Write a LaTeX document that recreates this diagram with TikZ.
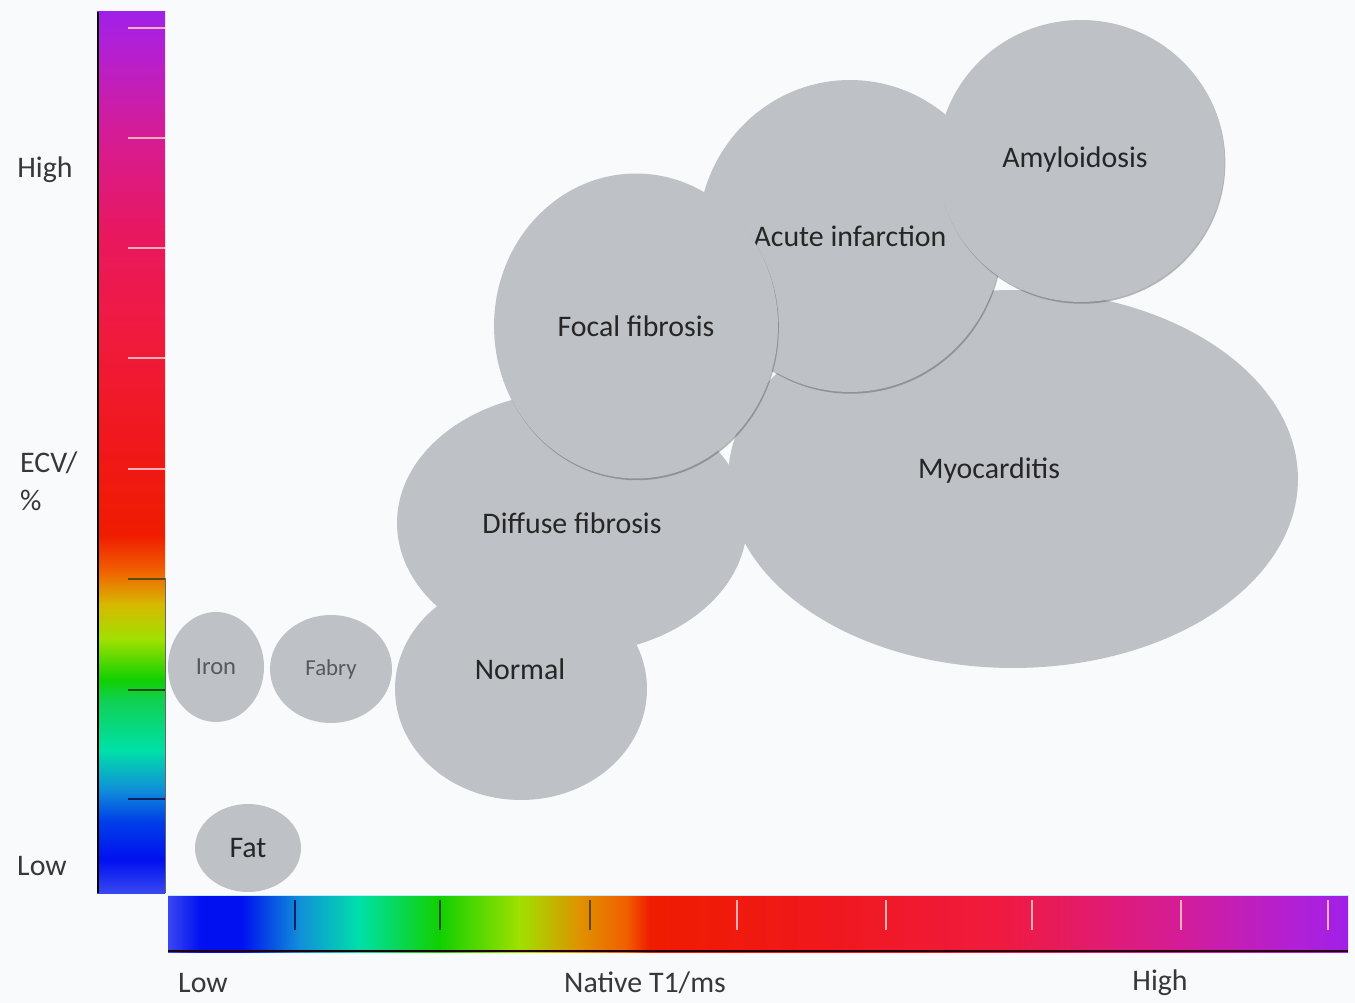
\documentclass[tikz,border=0pt]{standalone}
\usepackage{fontspec}
\setmainfont{Carlito}
\usepackage{xcolor}
\usetikzlibrary{shapes.geometric,shadows}
\definecolor{paperwhite}{HTML}{F9FAFC}
\definecolor{bubblegray}{HTML}{BEC1C5}
\definecolor{textgray}{HTML}{262626}
\definecolor{softgray}{HTML}{555A60}
\definecolor{labelgray}{HTML}{383838}
\definecolor{tickblue}{HTML}{102060}
\definecolor{tickgreen}{HTML}{104A18}
\definecolor{tickolive}{HTML}{5A4A10}
\definecolor{ticklight}{HTML}{F7B0B8}
\definecolor{cbedge}{HTML}{3848F0}
\definecolor{cbblue}{HTML}{0010F0}
\definecolor{cbroyal}{HTML}{0040E8}
\definecolor{cbazure}{HTML}{1090D8}
\definecolor{cbaqua}{HTML}{00E0A8}
\definecolor{cbjade}{HTML}{10D050}
\definecolor{cbgreen}{HTML}{10D000}
\definecolor{cblime}{HTML}{A0E000}
\definecolor{cbyellow}{HTML}{D8B800}
\definecolor{cbamber}{HTML}{E09000}
\definecolor{cborange}{HTML}{F06000}
\definecolor{cbred}{HTML}{F01C00}
\definecolor{cbscarlet}{HTML}{F01818}
\definecolor{cbcrimson}{HTML}{F01A40}
\definecolor{cbrose}{HTML}{E81860}
\definecolor{cbmagenta}{HTML}{D41C98}
\definecolor{cbviolet}{HTML}{B020D8}
\definecolor{cbpurple}{HTML}{A020E8}
\pgfdeclareverticalshading{ecvscale}{100bp}{color(0bp)=(cbedge); color(25bp)=(cbedge);
  color(26.9bp)=(cbblue); color(29.1bp)=(cbroyal); color(30.9bp)=(cbazure);
  color(33.1bp)=(cbaqua); color(36bp)=(cbjade); color(37.1bp)=(cbgreen);
  color(39.4bp)=(cblime); color(41.4bp)=(cbyellow); color(43.3bp)=(cborange);
  color(45.3bp)=(cbred); color(50.1bp)=(cbscarlet); color(57bp)=(cbcrimson);
  color(62.6bp)=(cbrose); color(68.3bp)=(cbmagenta); color(73.4bp)=(cbviolet);
  color(75bp)=(cbpurple); color(100bp)=(cbpurple)}
\pgfdeclarehorizontalshading{tonescale}{100bp}{color(0bp)=(cbedge); color(25bp)=(cbedge);
  color(26.4bp)=(cbblue); color(28.1bp)=(cbblue); color(30.6bp)=(cbazure);
  color(33.1bp)=(cbaqua); color(36.5bp)=(cbgreen); color(39.9bp)=(cblime);
  color(42.5bp)=(cbamber); color(44.4bp)=(cborange); color(45.4bp)=(cbred);
  color(51.8bp)=(cbscarlet); color(60.3bp)=(cbcrimson); color(67.9bp)=(cbmagenta);
  color(73bp)=(cbviolet); color(75bp)=(cbpurple); color(100bp)=(cbpurple)}

\begin{document}
\begin{tikzpicture}[x=0.02cm, y=-0.02cm,
  bubble/.style={ellipse, fill=bubblegray, inner sep=0pt, text=textgray,
    font=\fontsize{17}{20}\selectfont},
  rimmed/.style={drop shadow={shadow xshift=0.5pt, shadow yshift=-1pt,
    opacity=0.4, fill=black!70}},
  bubbletext/.style={text=textgray, font=\fontsize{17}{20}\selectfont},
  axislabel/.style={text=labelgray, font=\fontsize{17}{21.5}\selectfont}]
  \fill[paperwhite] (0,0) rectangle (1355,1003);
  \useasboundingbox (0,0) rectangle (1355,1003);

  \shade[shading=ecvscale] (97,12) rectangle (165,893);
  \draw[black, line width=1.3pt] (98,12) -- (98,893);
  \draw[black!60, line width=0.4pt] (165,578) -- (165,893);
  \foreach \ty/\tc in {28/ticklight, 138/ticklight, 248/ticklight, 358/ticklight,
      469/ticklight, 579/tickolive, 690/tickgreen, 799/tickblue}
    \draw[\tc, line width=1.1pt] (128,\ty) -- (165,\ty);

  \shade[shading=tonescale] (168,895) rectangle (1348,952);
  \draw[cyan!25!white, line width=0.8pt] (168,895.5) -- (1348,895.5);
  \draw[black!80!purple, line width=1.1pt] (168,951) -- (1348,951);
  \foreach \tx/\tc in {295/tickblue, 440/tickgreen, 590/tickolive, 737/ticklight,
      886/ticklight, 1032/ticklight, 1181/ticklight, 1328/ticklight}
    \draw[\tc, line width=1.1pt] (\tx,900) -- (\tx,930);

  \node[bubble, minimum width=11.40cm, minimum height=7.56cm] (myocarditis) at (1013,479) {};
  \node[bubble, minimum width=7.00cm, minimum height=5.24cm] (diffuse) at (572,523) {Diffuse fibrosis};
  \node[bubble, minimum width=5.04cm, minimum height=4.44cm] (normal) at (521,689) {};
  \node[bubble, minimum width=1.92cm, minimum height=2.20cm, text=softgray,
    font=\fontsize{14}{16}\selectfont] (iron) at (216,667) {Iron};
  \node[bubble, minimum width=2.44cm, minimum height=2.16cm, text=softgray,
    font=\fontsize{13}{15}\selectfont] (fabry) at (331,669) {Fabry};
  \node[bubble, minimum width=2.12cm, minimum height=1.76cm] (fat) at (248,848) {Fat};
  \node[bubble, rimmed, minimum width=6.08cm, minimum height=6.24cm] (acute) at (850,236) {Acute infarction};
  \node[bubble, rimmed, minimum width=5.68cm, minimum height=6.10cm] (focal) at (636,326) {Focal fibrosis};
  \node[bubble, rimmed, minimum width=5.74cm, minimum height=5.64cm] (amyloid) at (1081,161) {};

  \node[bubbletext] (myocarditistext) at (989,471) {Myocarditis};
  \node[bubbletext] (normaltext) at (520,669) {Normal};
  \node[bubbletext] (amyloidtext) at (1075,160) {Amyloidosis};

  \node[axislabel] (ecvhigh) at (45,170) {High};
  \node[axislabel, anchor=west, align=left] (ecvname) at (14,481) {ECV/\\\%};
  \node[axislabel] (ecvlow) at (42,866) {Low};
  \node[axislabel] (tonelow) at (203,983) {Low};
  \node[axislabel] (tonename) at (645,983) {Native T1/ms};
  \node[axislabel] (tonehigh) at (1160,983) {High};
\end{tikzpicture}
\end{document}
